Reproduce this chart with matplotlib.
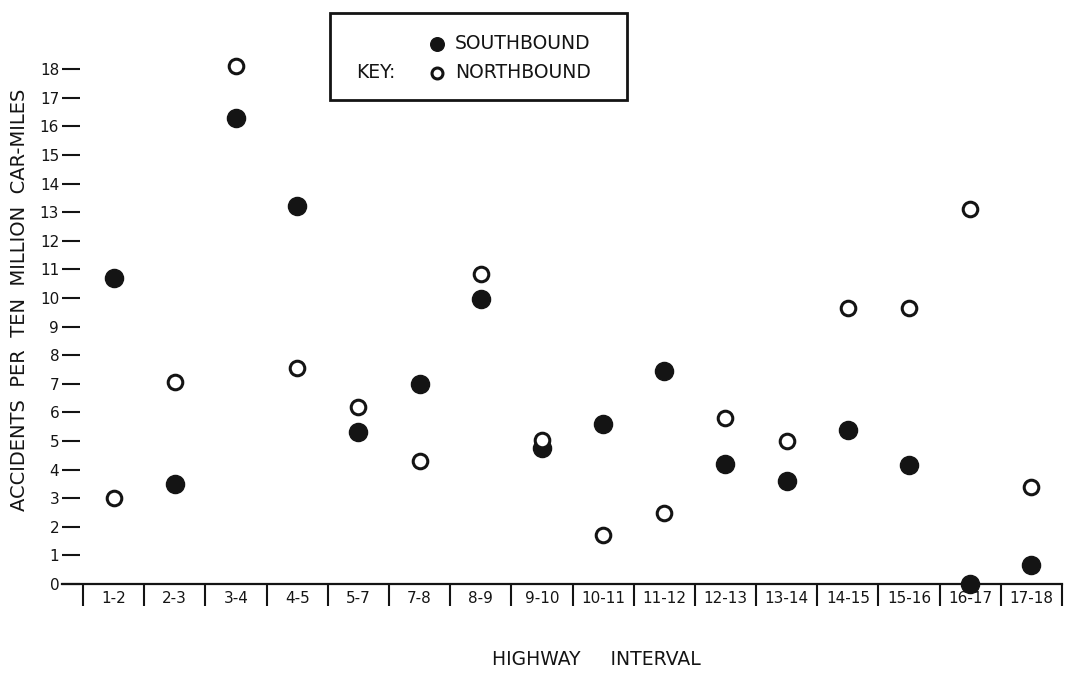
import matplotlib.pyplot as plt
from matplotlib.patches import Rectangle
import numpy as np

# highway intervals and accident rates
intervals = ["1-2", "2-3", "3-4", "4-5", "5-7", "7-8", "8-9", "9-10",
             "10-11", "11-12", "12-13", "13-14", "14-15", "15-16", "16-17", "17-18"]
southbound = [10.7, 3.5, 16.3, 13.2, 5.3, 7.0, 9.95, 4.75,
              5.6, 7.45, 4.2, 3.6, 5.4, 4.15, 0.0, 0.65]
northbound = [3.0, 7.05, 18.1, 7.55, 6.2, 4.3, 10.85, 5.05,
              1.7, 2.5, 5.8, 5.0, 9.65, 9.65, 13.1, 3.4]
yticks = list(range(0, 19))

ink = "#141414"
plt.rcParams["font.family"] = ["DejaVu Sans"]

fig = plt.figure(figsize=(10.69, 6.76), dpi=100)
ax = fig.add_axes([0.0748, 0.136, 0.9187, 0.804])

x = np.arange(len(intervals))
s_pts = ax.scatter(x, southbound, s=170, color=ink, edgecolor=ink, zorder=3,
                   clip_on=False, label="SOUTHBOUND")
n_pts = ax.scatter(x, northbound, s=110, facecolor="white", edgecolor=ink,
                   linewidth=2.2, zorder=3, clip_on=False, label="NORTHBOUND")

ax.set_xlim(-0.549, len(intervals) - 0.5)
ax.set_ylim(0, 19)

for side in ["top", "right", "left", "bottom"]:
    ax.spines[side].set_visible(False)
ax.axhline(0, xmin=-0.018, xmax=1.0, color=ink, lw=1.6, clip_on=False, zorder=2)

ax.set_yticks(yticks)
ax.tick_params(axis="y", direction="out", length=13, width=1.5, pad=2,
               labelsize=11, colors=ink)

ax.set_xticks(x, labels=intervals)
ax.set_xticks(np.arange(len(intervals) + 1) - 0.5, minor=True)
ax.tick_params(axis="x", which="major", length=0, pad=5, labelsize=11, colors=ink)
ax.tick_params(axis="x", which="minor", direction="out", length=16, width=1.5, colors=ink)

fig.text(0.0187, 0.556, "ACCIDENTS  PER  TEN  MILLION  CAR-MILES", rotation=90,
         ha="center", va="center", fontsize=14, color=ink)
fig.text(0.558, 0.024, "HIGHWAY     INTERVAL", ha="center", va="center",
         fontsize=13.5, color=ink)

# key box
fig.legend(handles=[s_pts, n_pts], loc="upper left", bbox_to_anchor=(0.40, 0.9503),
           frameon=False, borderpad=0, borderaxespad=0, handlelength=1.0,
           handletextpad=0.46, labelspacing=0.55, markerscale=0.75,
           prop={"size": 13.5}, labelcolor=ink)
fig.patches.append(Rectangle((0.3087, 0.852), 0.2778, 0.1287, transform=fig.transFigure,
                             fill=False, edgecolor=ink, lw=2))
fig.text(356 / 1069, (676 - 72) / 676, "KEY:", ha="left", va="center",
         fontsize=13.5, color=ink)

fig.savefig("out.png", dpi=100)
